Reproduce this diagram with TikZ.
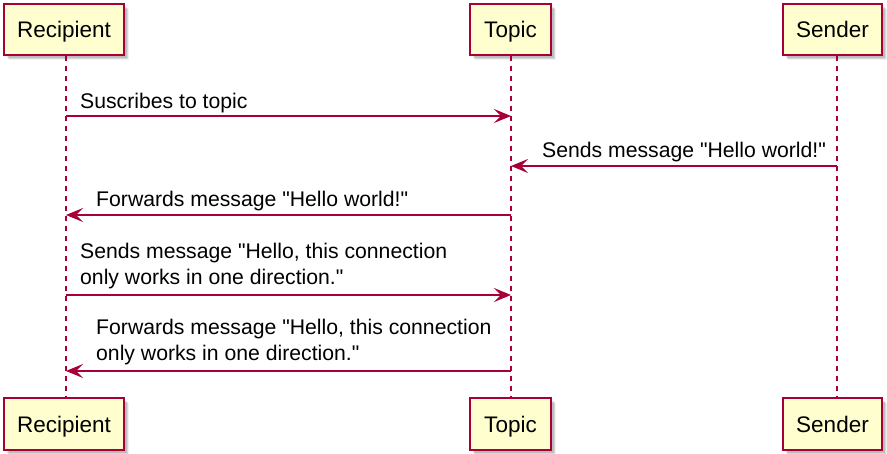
\documentclass[tikz,border=0pt]{standalone}
\usepackage{fontspec}
\setmainfont{Liberation Sans}[Ligatures=TeXOff]
\usetikzlibrary{arrows.meta,shadows}
\definecolor{umlred}{HTML}{A80036}
\definecolor{umlfill}{HTML}{FEFECE}
\tikzset{
  partbox/.style={draw=umlred, line width=1.5pt, fill=umlfill, rectangle,
    inner sep=0pt, text height=16pt, text depth=0pt,
    font=\fontsize{22.5}{27}\selectfont,
    drop shadow={shadow xshift=4pt, shadow yshift=-4pt, opacity=.10, fill=black},
    drop shadow={shadow xshift=3pt, shadow yshift=-3pt, opacity=.12, fill=black},
    drop shadow={shadow xshift=5pt, shadow yshift=-5pt, opacity=.06, fill=black}},
  lifeline/.style={draw=umlred, line width=1.2pt, dash pattern=on 5pt off 5pt},
  msg/.style={draw=umlred, line width=1.3pt,
    -{Stealth[length=17pt, width=14pt, inset=7pt]}},
  msgtext/.style={anchor=base west, inner sep=0pt, align=left,
    font=\fontsize{21.2}{26}\selectfont}
}
\begin{document}
\begin{tikzpicture}[x=1pt, y=-1pt]
  \useasboundingbox (0,0) rectangle (887,454);

  % participants, top row
  \node[partbox, minimum width=120pt, minimum height=51pt] (rtop) at (64,29.5) {Recipient};
  \node[partbox, minimum width=81pt,  minimum height=51pt] (ttop) at (510.5,29.5) {Topic};
  \node[partbox, minimum width=99pt,  minimum height=51pt] (stp)  at (832.5,29.5) {Sender};
  % participants, bottom row
  \node[partbox, minimum width=120pt, minimum height=52pt] (rbot) at (64,424) {Recipient};
  \node[partbox, minimum width=81pt,  minimum height=52pt] (tbot) at (510.5,424) {Topic};
  \node[partbox, minimum width=99pt,  minimum height=52pt] (sbot) at (832.5,424) {Sender};

  % lifeline positions
  \coordinate (rx) at (66,0);
  \coordinate (tx) at (511,0);
  \coordinate (sx) at (837,0);

  \draw[lifeline] (rtop.south -| rx) -- (rbot.north -| rx);
  \draw[lifeline] (ttop.south -| tx) -- (tbot.north -| tx);
  \draw[lifeline] (stp.south -| sx) -- (sbot.north -| sx);

  % message end points
  \coordinate (m1a) at (66,116);  \coordinate (m1b) at (511,116);
  \coordinate (m2a) at (837,166); \coordinate (m2b) at (511,166);
  \coordinate (m3a) at (511,215); \coordinate (m3b) at (66,215);
  \coordinate (m4a) at (66,295);  \coordinate (m4b) at (511,295);
  \coordinate (m5a) at (511,371); \coordinate (m5b) at (66,371);

  \draw[msg] (m1a) -- (m1b);
  \draw[msg] (m2a) -- (m2b);
  \draw[msg] (m3a) -- (m3b);
  \draw[msg] (m4a) -- (m4b);
  \draw[msg] (m5a) -- (m5b);

  % message labels (base anchor sits on the last line)
  \node[msgtext] (l1) at (80,108.5) {Suscribes to topic};
  \node[msgtext] (l2) at (542,157.5) {Sends message "Hello world!"};
  \node[msgtext] (l3) at (96,206.5) {Forwards message "Hello world!"};
  \node[msgtext] (l4) at (80,285) {Sends message "Hello, this connection\\only works in one direction."};
  \node[msgtext] (l5) at (96,361) {Forwards message "Hello, this connection\\only works in one direction."};
\end{tikzpicture}
\end{document}
